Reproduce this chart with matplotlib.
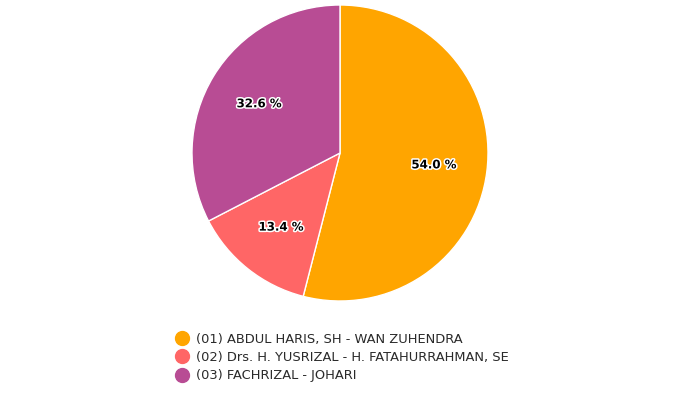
import matplotlib
matplotlib.use("Agg")
import matplotlib.pyplot as plt
import matplotlib.patheffects as pe
from matplotlib.lines import Line2D

labels = ["(01) ABDUL HARIS, SH - WAN ZUHENDRA",
          "(02) Drs. H. YUSRIZAL - H. FATAHURRAHMAN, SE",
          "(03) FACHRIZAL - JOHARI"]
values = [54.0, 13.4, 32.6]
colors = ["#FFA500", "#FF6666", "#B84C94"]

W, H = 700, 393
fig = plt.figure(figsize=(7, 3.93), dpi=100)
cx, cy, r = 340, 153, 148
ax = fig.add_axes([(cx - r) / W, (H - cy - r) / H, 2 * r / W, 2 * r / H])
wedges, texts, autotexts = ax.pie(values, colors=colors, startangle=90, counterclock=False,
                                  autopct=lambda p: f"{p:.1f} %", pctdistance=0.64,
                                  wedgeprops=dict(edgecolor="white", linewidth=1))
for t in autotexts:
    t.set_fontsize(8.5)
    t.set_fontweight("bold")
    t.set_color("black")
    t.set_path_effects([pe.withStroke(linewidth=2.2, foreground="white")])
ax.set_xlim(-1, 1)
ax.set_ylim(-1, 1)
ax.set_aspect("equal")
ax.axis("off")

handles = [Line2D([0], [0], marker="o", linestyle="", markersize=10,
                  markerfacecolor=c, markeredgecolor=c) for c in colors]
fig.legend(handles, labels, loc="upper left", bbox_to_anchor=(175.5 / W, 1 - 332.5 / H),
           frameon=False, fontsize=9.4, handletextpad=0.55, labelspacing=0.42,
           handlelength=1.0, borderaxespad=0, borderpad=0, labelcolor="#2a2a2a")
fig.savefig("out.png", dpi=100)
